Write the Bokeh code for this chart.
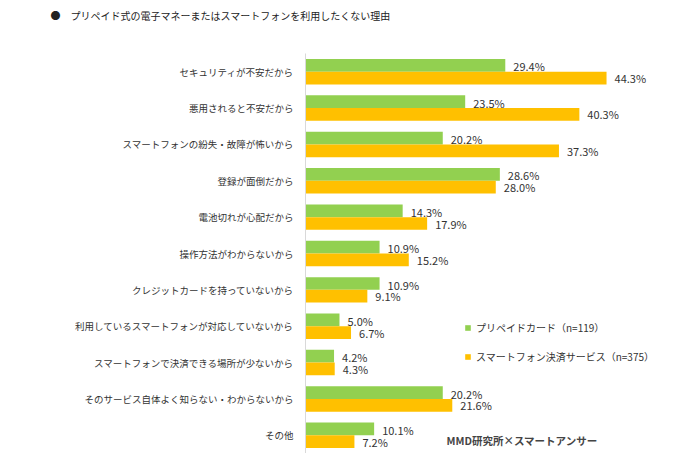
from bokeh.plotting import figure
from bokeh.models import ColumnDataSource, FactorRange, Range1d, Label, Legend, LegendItem, Title
from bokeh.transform import dodge
from bokeh.core.properties import value
from bokeh.embed import file_html
from bokeh.resources import INLINE

categories = [
    "セキュリティが不安だから",
    "悪用されると不安だから",
    "スマートフォンの紛失・故障が怖いから",
    "登録が面倒だから",
    "電池切れが心配だから",
    "操作方法がわからないから",
    "クレジットカードを持っていないから",
    "利用しているスマートフォンが対応していないから",
    "スマートフォンで決済できる場所が少ないから",
    "そのサービス自体よく知らない・わからないから",
    "その他",
]
prepaid = [29.4, 23.5, 20.2, 28.6, 14.3, 10.9, 10.9, 5.0, 4.2, 20.2, 10.1]
smartphone = [44.3, 40.3, 37.3, 28.0, 17.9, 15.2, 9.1, 6.7, 4.3, 21.6, 7.2]
series_names = ["プリペイドカード（n=119）", "スマートフォン決済サービス（n=375）"]
title_text = "●　プリペイド式の電子マネーまたはスマートフォンを利用したくない理由"
source_text = "MMD研究所×スマートアンサー"

FONT = "Noto Sans CJK JP"
GREEN = "#92D050"
ORANGE = "#FFC000"
TXT = "#333333"

src = ColumnDataSource(dict(
    cat=categories,
    a=prepaid,
    b=smartphone,
    al=[f"{v:.1f}%" for v in prepaid],
    bl=[f"{v:.1f}%" for v in smartphone],
))

p = figure(width=692, height=453, output_backend="svg", toolbar_location=None,
           y_range=FactorRange(*list(reversed(categories)), range_padding=0),
           x_range=Range1d(0, 56.95),
           min_border_left=305, min_border_right=0, min_border_top=53, min_border_bottom=0)
p.outline_line_color = None
p.xgrid.visible = False
p.ygrid.visible = False
p.xaxis.visible = False
p.background_fill_color = "white"

bh = 0.35
r1 = p.hbar(y=dodge("cat", 0.175, range=p.y_range), right="a", left=0, height=bh,
            source=src, fill_color=GREEN, line_color=None)
r2 = p.hbar(y=dodge("cat", -0.175, range=p.y_range), right="b", left=0, height=bh,
            source=src, fill_color=ORANGE, line_color=None)

p.text(x="a", y=dodge("cat", 0.175, range=p.y_range), text="al", source=src,
       x_offset=8, y_offset=1, text_font=value(FONT), text_font_size="11px",
       text_color=TXT, text_baseline="middle", text_align="left")
p.text(x="b", y=dodge("cat", -0.175, range=p.y_range), text="bl", source=src,
       x_offset=8, y_offset=0, text_font=value(FONT), text_font_size="11px",
       text_color=TXT, text_baseline="middle", text_align="left")

yax = p.yaxis[0]
yax.axis_line_color = "#d9d9d9"
yax.axis_line_width = 1
yax.major_tick_line_color = None
yax.minor_tick_line_color = None
yax.major_tick_in = 0
yax.major_tick_out = 0
yax.major_label_standoff = 12
yax.major_label_text_font = FONT
yax.major_label_text_font_size = "9.5px"
yax.major_label_text_color = TXT

legend = Legend(items=[LegendItem(label=series_names[0], renderers=[r1]),
                       LegendItem(label=series_names[1], renderers=[r2])],
                location=(159, 89), orientation="vertical",
                glyph_width=7, glyph_height=7, label_height=14, spacing=14,
                label_standoff=5, padding=0, margin=0,
                border_line_color=None, background_fill_alpha=0,
                label_text_font=FONT, label_text_font_size="10px",
                label_text_color=TXT)
p.add_layout(legend, "center")

spacer = Title(text=" ", standoff=14, text_font=FONT, text_font_size="10px")
p.add_layout(spacer, "above")
title = Title(text=title_text, align="left", offset=-255, standoff=0,
              text_font=FONT, text_font_size="10px", text_font_style="normal",
              text_color="#222222")
p.add_layout(title, "above")

p.add_layout(Label(x=141, y=13, x_units="screen", y_units="screen", text=source_text,
                   text_font=FONT, text_font_size="10.5px", text_font_style="bold",
                   text_color="#444444", text_baseline="middle", text_align="left"))

open("out.html", "w").write(file_html(p, INLINE))
